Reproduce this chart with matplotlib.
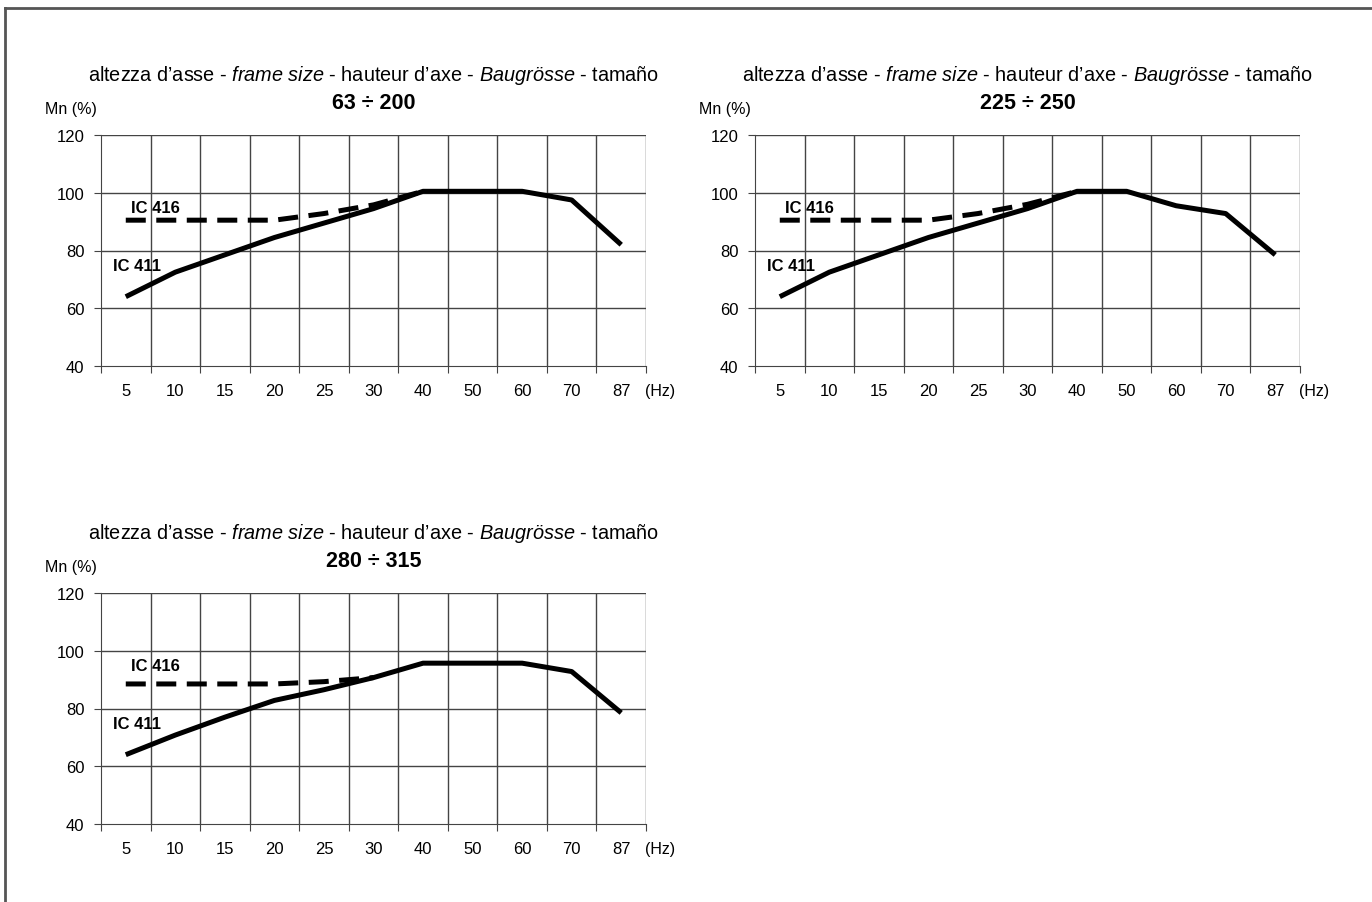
import matplotlib.pyplot as plt
import numpy as np

plt.rcParams['font.family'] = ['Liberation Sans', 'DejaVu Sans']
plt.rcParams['mathtext.fontset'] = 'custom'
plt.rcParams['mathtext.it'] = 'Liberation Sans:italic'
plt.rcParams['mathtext.rm'] = 'Liberation Sans'

freq = ['5', '10', '15', '20', '25', '30', '40', '50', '60', '70', '87']

# IC 411 (solid) - full range
ic411_a = [64, 72.5, 78.5, 84.5, 89.5, 94.5, 100.5, 100.5, 100.5, 97.5, 82]
ic411_b = [64, 72.5, 78.5, 84.5, 89.5, 94.5, 100.5, 100.5, 95.5, 92.8, 78.5]
ic411_c = [64, 70.8, 77, 82.8, 86.5, 90.7, 95.7, 95.7, 95.7, 92.8, 78.5]

# IC 416 (dashed) - up to where it joins IC 411
ic416_a = [90.5, 90.5, 90.5, 90.5, 92.8, 95.8, 100.5]
ic416_b = [90.5, 90.5, 90.5, 90.5, 92.8, 96, 100.5]
ic416_c = [88.5, 88.5, 88.5, 88.5, 89.3, 90.7]

sizes = ['63 ÷ 200', '225 ÷ 250', '280 ÷ 315']

fig = plt.figure(figsize=(13.72, 9.03), dpi=100)

# border (left and top only)
fig.add_artist(plt.Line2D([5 / 1372, 5 / 1372], [0, 1 - 9 / 903], color='#555555', lw=2))
fig.add_artist(plt.Line2D([5 / 1372, 1], [1 - 9 / 903, 1 - 9 / 903], color='#555555', lw=2))

# panel positions in pixels: left, top
pos = [(101, 136), (755, 136), (101, 594)]
w, h = 545, 231

panels = [(ic411_a, ic416_a), (ic411_b, ic416_b), (ic411_c, ic416_c)]

for k in range(3):
    left, top = pos[k]
    ax = fig.add_axes([left / 1372, 1 - (top + h) / 903, w / 1372, h / 903])
    s411, s416 = panels[k]
    x = np.arange(len(freq)) + 0.5

    ax.set_xlim(0, len(freq))
    ax.set_ylim(40, 120)

    # grid lines
    for i in range(1, len(freq) + 1):
        ax.axvline(i, color='#444444', lw=1, zorder=1)
    for yv in [60, 80, 100, 120]:
        ax.axhline(yv, color='#444444', lw=1, zorder=1)

    ax.plot(x[:len(s416)], s416, color='black', lw=3.6, dashes=(4, 2.1), zorder=3)
    ax.plot(x, s411, color='black', lw=3.6, solid_capstyle='butt', zorder=4)

    for sp in ['top', 'right']:
        ax.spines[sp].set_visible(False)
    ax.spines['left'].set_color('#444444')
    ax.spines['bottom'].set_color('#444444')

    ax.set_yticks([40, 60, 80, 100, 120])
    ax.set_xticks(np.arange(len(freq) + 1))
    ax.set_xticklabels([])
    ax.set_xticks(x, minor=True)
    ax.set_xticklabels(freq, minor=True)
    ax.tick_params(axis='x', which='major', length=5, color='#444444', direction='out')
    ax.tick_params(axis='x', which='minor', length=0, pad=12, labelsize=12)
    ax.tick_params(axis='y', length=5, color='#444444', pad=7, labelsize=12)

    ax.text(0.998, -0.104, '(Hz)', transform=ax.transAxes, fontsize=11.5, va='center', ha='left')
    ax.text(-0.103, 1.113, 'Mn (%)', transform=ax.transAxes, fontsize=11.5, va='center', ha='left')

    ax.text(0.6, 94.9, 'IC 416', fontsize=12, fontweight='bold', va='center', ha='left')
    ax.text(0.24, 74.8, 'IC 411', fontsize=12, fontweight='bold', va='center', ha='left')

    ax.text(0.5, 1.26,
            'altezza d\u2019asse - $\\it{frame\\ size}$ - hauteur d\u2019axe - $\\it{Baugrösse}$ - tamaño',
            transform=ax.transAxes, fontsize=14.3, ha='center', va='center')
    ax.text(0.5, 1.139, sizes[k], transform=ax.transAxes, fontsize=15.5, fontweight='bold',
            ha='center', va='center')

fig.savefig('out.png', dpi=100)
